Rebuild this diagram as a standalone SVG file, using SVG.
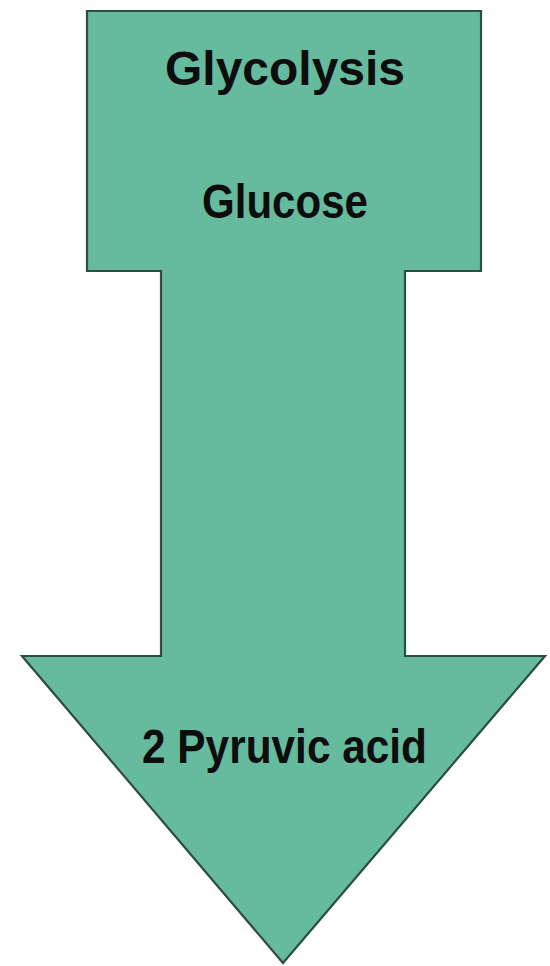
<svg xmlns="http://www.w3.org/2000/svg" width="550" height="966" viewBox="0 0 550 966">
<style>
.shape{fill:#66bb9e;stroke:#2b4d43;stroke-width:2.2;stroke-linejoin:miter}
.t{font-family:"Liberation Sans",Arial,sans-serif;font-weight:bold;fill:#0d0d0d;text-anchor:start}
</style>
<rect width="550" height="966" fill="#ffffff"/>
<g id="arrow">
<path class="shape" d="M87,11 H481 V271 H405 V656 H545 L283,963 L22,656 H161 V271 H87 Z"/>
</g>
<g id="glycolysis">
<text class="t" x="165" y="85" font-size="48" textLength="240" lengthAdjust="spacingAndGlyphs">Glycolysis</text>
</g>
<g id="glucose">
<text class="t" x="202" y="218" font-size="49" textLength="166" lengthAdjust="spacingAndGlyphs">Glucose</text>
</g>
<g id="pyruvic">
<text class="t" x="142" y="763" font-size="49" textLength="285" lengthAdjust="spacingAndGlyphs">2 Pyruvic acid</text>
</g>
</svg>
